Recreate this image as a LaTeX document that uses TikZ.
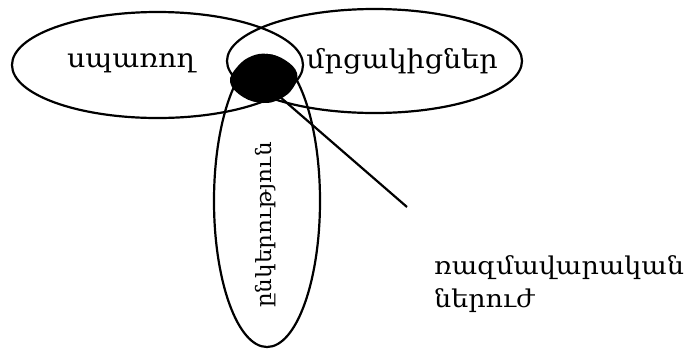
\documentclass[tikz,border=0pt]{standalone}
\usepackage{fontspec}
\setmainfont[FakeStretch=1.1]{DejaVu Serif}
\usetikzlibrary{shapes.geometric}
\tikzset{
  oval/.style={draw, ellipse, line width=2.2pt, inner sep=0pt},
  lbl/.style={font=\fontsize{26}{30}\selectfont, inner sep=0pt},
  vlbl/.style={font=\fontsize{21}{25}\selectfont, inner sep=0pt, rotate=90},
  link/.style={line width=2.2pt}
}
\begin{document}
\begin{tikzpicture}[x=1pt, y=-1pt]
\useasboundingbox (0,0) rectangle (689,349);
% ellipses
\node[oval, minimum width=291pt, minimum height=106pt] (cons) at (157.5,65) {};
\node[oval, minimum width=295pt, minimum height=104pt] (comp) at (374.5,61) {};
\node[oval, minimum width=106pt, minimum height=292pt] (firm) at (267,201) {};
% core
\fill plot[smooth cycle, tension=0.7] coordinates {(230,82) (238,66) (252,56) (268,54) (285,60) (297,73) (293,88) (280,99) (263,103) (243,97)};
% labels
\node[lbl, anchor=base] (tcons) at (131,67) {սպառող};
\node[lbl, anchor=base] (tcomp) at (402,68) {մրցակիցներ};
\node[vlbl] (tfirm) at (266,225) {ընկերություն};
% connector
\coordinate (core) at (272,90);
\coordinate (tip) at (407,207);
\draw[link] (core) -- (tip);
\node[lbl, font=\fontsize{24.5}{29}\selectfont, anchor=north west, align=left] (pot) at (434,255) {ռազմավարական\\[4pt]ներուժ};
\end{tikzpicture}
\end{document}
